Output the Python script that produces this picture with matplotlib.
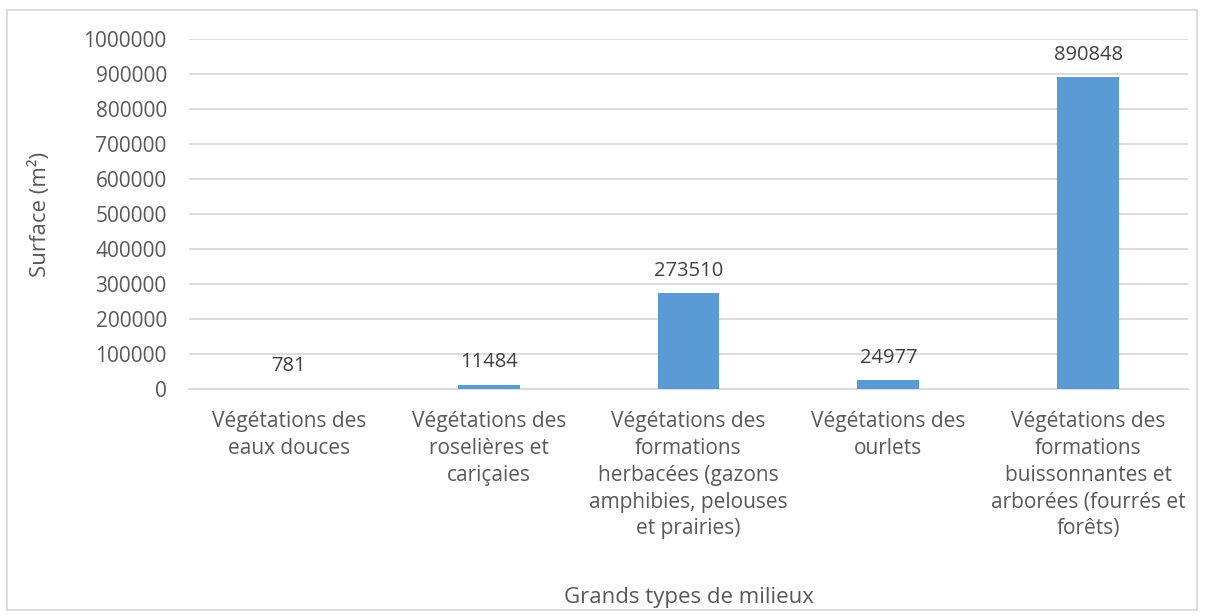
import matplotlib.pyplot as plt
from matplotlib.patches import Rectangle

# Data
categories = [
    "Végétations des\neaux douces",
    "Végétations des\nroselières et\ncariçaies",
    "Végétations des\nformations\nherbacées (gazons\namphibies, pelouses\net prairies)",
    "Végétations des\nourlets",
    "Végétations des\nformations\nbuissonnantes et\narborées (fourrés et\nforêts)",
]
surfaces = [781, 11484, 273510, 24977, 890848]
y_ticks = [0, 100000, 200000, 300000, 400000, 500000, 600000, 700000, 800000, 900000, 1000000]

text_color = '#595959'
grid_color = '#D9D9D9'
bar_color = '#5B9BD5'

plt.rcParams['font.family'] = ['Open Sans', 'DejaVu Sans']

fig = plt.figure(figsize=(12.06, 6.16), dpi=100)
ax = fig.add_axes([189 / 1206, 1 - 389 / 616, (1188 - 189) / 1206, (389 - 39) / 616])

x = list(range(len(categories)))
bars = ax.bar(x, surfaces, width=0.31, color=bar_color, zorder=3)

for b, v in zip(bars, surfaces):
    ax.annotate(str(v), (b.get_x() + b.get_width() / 2, v), xytext=(0, 9),
                textcoords='offset points', ha='center', va='bottom',
                fontsize=14.5, color='#404040')

ax.set_xlim(-0.5, len(categories) - 0.5)
ax.set_ylim(0, 1000000)
ax.set_yticks(y_ticks)
ax.set_yticklabels([str(t) for t in y_ticks])
ax.set_xticks(x)
ax.set_xticklabels(categories, linespacing=1.36)

ax.yaxis.grid(True, color=grid_color, linewidth=1.3, zorder=0)
ax.set_axisbelow(True)
for s in ['top', 'right', 'left']:
    ax.spines[s].set_visible(False)
ax.spines['bottom'].set_color(grid_color)
ax.spines['bottom'].set_linewidth(1.3)

ax.tick_params(axis='both', length=0, labelsize=15, labelcolor=text_color)
ax.tick_params(axis='x', pad=16)
ax.tick_params(axis='y', pad=16)

ax.set_xlabel('Grands types de milieux', fontsize=16, color=text_color)
ax.set_ylabel('Surface (m²)', fontsize=16, color=text_color)
ax.xaxis.set_label_coords(0.5, -0.565)
ax.yaxis.set_label_coords(-0.138, 0.5)

# light frame around the whole chart, like the spreadsheet export
fig.patches.append(Rectangle((7 / 1206, 6 / 616), 1190 / 1206, 600 / 616,
                             transform=fig.transFigure, fill=False,
                             edgecolor=grid_color, linewidth=1.3))

fig.savefig('out.png', dpi=100)
